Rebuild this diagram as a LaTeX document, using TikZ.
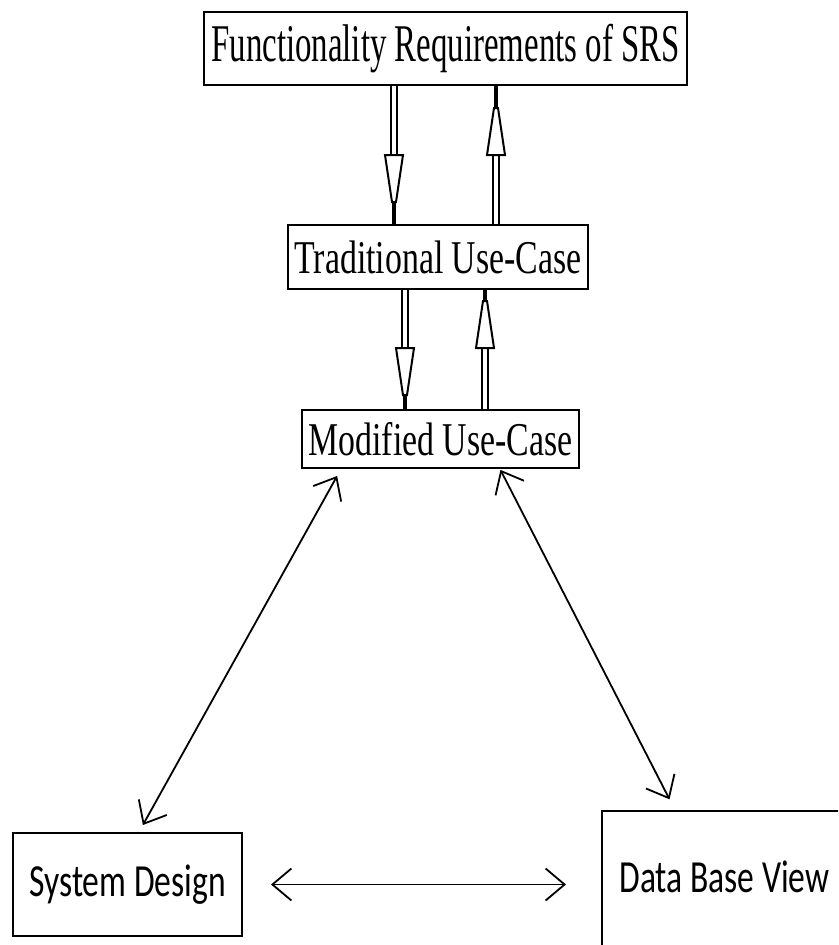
\documentclass[tikz,border=0pt]{standalone}
\usepackage{fontspec}
\newfontfamily\srsfont[FakeStretch=0.62]{Liberation Serif}
\newfontfamily\ucfont[FakeStretch=0.72]{Liberation Serif}
\newfontfamily\viewfont[FakeStretch=0.73]{Carlito}
\usetikzlibrary{arrows.meta, positioning, calc}

\begin{document}
\begin{tikzpicture}[
  x=1pt, y=-1pt,
  box/.style  = {draw, line width=2pt, fill=white, inner sep=0pt},
  stem/.style = {line width=4pt},
  dbl/.style  = {double, double distance=3.5pt, line width=2pt},
  dart/.style = {{Straight Barb[length=19pt, width=32pt]}-{Straight Barb[length=19pt, width=32pt]}, line width=1.8pt},
  pics/hollowhead/.style = {code={
    \draw[line width=2pt, fill=white] (-9,0) -- (9,0) -- (2,47) -- (-2,47) -- cycle;}},
]
  \useasboundingbox (0,0) rectangle (838,945);
  \clip (0,0) rectangle (838,945);

  \node[box, minimum width=483pt, minimum height=73pt, font=\srsfont\fontsize{53}{60}\selectfont]
    (srs)  at (445.5,48.5) {Functionality Requirements of SRS};
  \node[box, minimum width=300pt, minimum height=64pt, font=\ucfont\fontsize{47}{54}\selectfont]
    (trad) at (438,257)    {Traditional Use-Case};
  \node[box, minimum width=277pt, minimum height=58pt, font=\ucfont\fontsize{47}{54}\selectfont]
    (mod)  at (440.5,439)  {Modified Use-Case};
  \node[box, minimum width=229pt, minimum height=103pt, font=\viewfont\fontsize{46}{52}\selectfont]
    (sysd) at (127.5,884.5) {System Design};
  % dbv runs off the page on the right and at the bottom
  \node[box, minimum width=245pt, text height=81pt, text depth=70pt, anchor=base,
        font=\viewfont\fontsize{46}{52}\selectfont]
    (dbv)  at (724.5,892)  {Data Base View};

  % heads of the double arrows
  \coordinate (d1) at (394,155);
  \coordinate (u1) at (496,155);
  \coordinate (d2) at (405,348);
  \coordinate (u2) at (485,348);

  \draw[stem] (srs.south -| d1) -- (trad.north -| d1);
  \draw[dbl]  (srs.south -| d1) -- (d1);
  \pic at (d1) {hollowhead};

  \draw[stem] (trad.north -| u1) -- (srs.south -| u1);
  \draw[dbl]  (trad.north -| u1) -- (u1);
  \pic[rotate=180] at (u1) {hollowhead};

  \draw[stem] (trad.south -| d2) -- (mod.north -| d2);
  \draw[dbl]  (trad.south -| d2) -- (d2);
  \pic at (d2) {hollowhead};

  \draw[stem] (mod.north -| u2) -- (trad.south -| u2);
  \draw[dbl]  (mod.north -| u2) -- (u2);
  \pic[rotate=180] at (u2) {hollowhead};

  \draw[dart, shorten <=8pt, shorten >=8pt]
    ([xshift=40pt]mod.south west) -- ([xshift=127pt]sysd.north west);
  \draw[dart, shorten <=1pt, shorten >=12pt]
    ([xshift=199pt]mod.south west) -- ([xshift=74pt]dbv.north west);
  \draw[dart, shorten <=28pt, shorten >=35pt] (sysd.east) -- (sysd.east -| dbv.west);
\end{tikzpicture}
\end{document}
